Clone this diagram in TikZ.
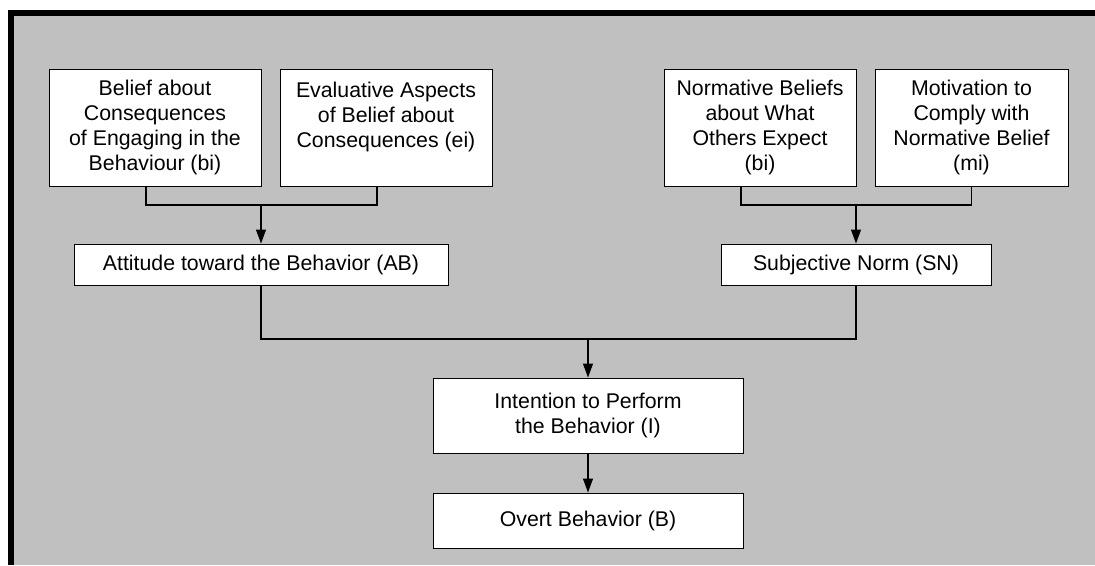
\documentclass[tikz,border=0pt]{standalone}
\usepackage{fontspec}
\setmainfont{Liberation Sans}
\usetikzlibrary{arrows.meta}
\begin{document}
\begin{tikzpicture}[x=1pt,y=-1pt,
  box/.style={draw=black,line width=1pt,fill=white,align=center,inner sep=0pt,
    font=\fontsize{21.3pt}{25pt}\selectfont},
  topbox/.style={box,minimum height=117pt},
  conn/.style={line width=1.1pt,black},
  arr/.style={conn,-{Triangle[length=14pt,width=10pt]}}]
\useasboundingbox (0,0) rectangle (1095,565);
\fill[white] (0,0) rectangle (1095,565);
\fill[black] (8,10) rectangle (1095,16);
\fill[black] (8,10) rectangle (14,565);
\fill[fill={rgb,255:red,192;green,192;blue,192}] (14,16) rectangle (1095,565);

\node[topbox,minimum width=212pt] (b1) at (155,127.5) {Belief about\\Consequences\\of Engaging in the\\Behaviour (bi)};
\node[topbox,minimum width=212pt] (b2) at (386,127.5) {Evaluative Aspects\\of Belief about\\Consequences (ei)\\\mbox{}};
\node[topbox,minimum width=192pt] (b3) at (760,127.5) {Normative Beliefs\\about What\\Others Expect\\(bi)};
\node[topbox,minimum width=193pt] (b4) at (971.5,127.5) {Motivation to\\Comply with\\Normative Belief\\(mi)};

\node[box,minimum width=374pt,minimum height=41pt] (ab) at (261,264.5) {Attitude toward the Behavior (AB)};
\node[box,minimum width=270pt,minimum height=41pt] (sn) at (856,264.5) {Subjective Norm (SN)};
\node[box,minimum width=310pt,minimum height=75pt] (in) at (588,415.5) {Intention to Perform\\the Behavior (I)};
\node[box,minimum width=310pt,minimum height=55pt] (ob) at (588,520.5) {Overt Behavior (B)};

\coordinate (j1) at (261,205);
\coordinate (j2) at (856,205);
\coordinate (j3) at (588,339);

\draw[conn] ([xshift=-9pt]b1.south) |- (j1) -| ([xshift=-9pt]b2.south);
\draw[arr] (j1) -- (ab.north);
\draw[conn] ([xshift=-19pt]b3.south) |- (j2) -| (b4.south);
\draw[arr] (j2) -- (sn.north);
\draw[conn] (ab.south) |- (j3) -| (sn.south);
\draw[arr] (j3) -- (in.north);
\draw[arr] (in.south) -- (ob.north);
\end{tikzpicture}
\end{document}
